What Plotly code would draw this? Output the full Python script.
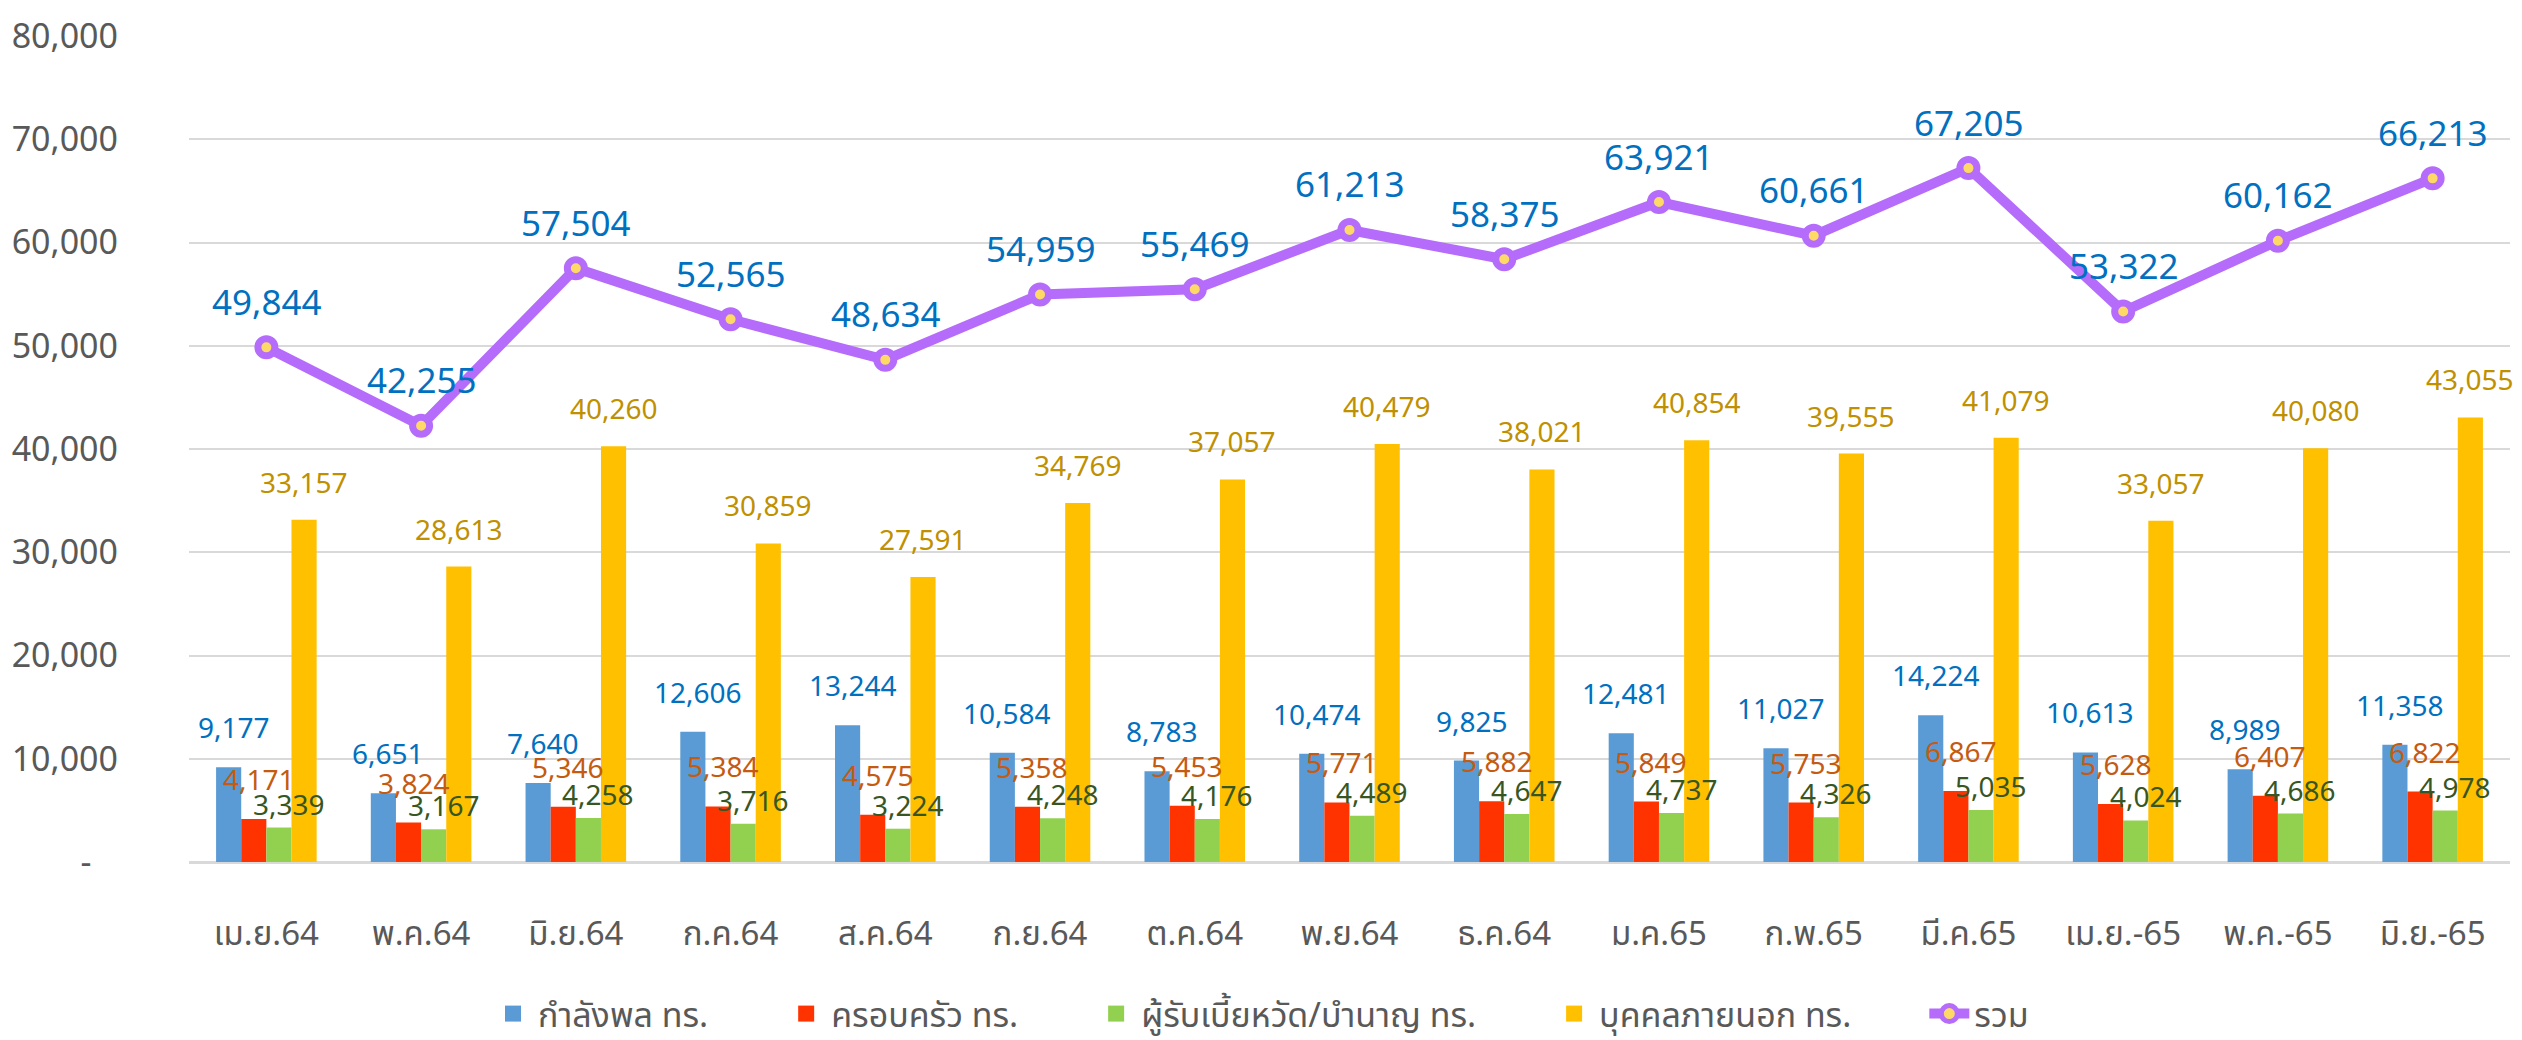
import plotly.graph_objects as go

categories = ["เม.ย.64", "พ.ค.64", "มิ.ย.64", "ก.ค.64", "ส.ค.64", "ก.ย.64", "ต.ค.64", "พ.ย.64",
              "ธ.ค.64", "ม.ค.65", "ก.พ.65", "มี.ค.65", "เม.ย.-65", "พ.ค.-65", "มิ.ย.-65"]

personnel = [9177, 6651, 7640, 12606, 13244, 10584, 8783, 10474, 9825, 12481, 11027, 14224, 10613, 8989, 11358]
family = [4171, 3824, 5346, 5384, 4575, 5358, 5453, 5771, 5882, 5849, 5753, 6867, 5628, 6407, 6822]
pensioners = [3339, 3167, 4258, 3716, 3224, 4248, 4176, 4489, 4647, 4737, 4326, 5035, 4024, 4686, 4978]
outsiders = [33157, 28613, 40260, 30859, 27591, 34769, 37057, 40479, 38021, 40854, 39555, 41079, 33057, 40080, 43055]
total = [49844, 42255, 57504, 52565, 48634, 54959, 55469, 61213, 58375, 63921, 60661, 67205, 53322, 60162, 66213]

series_names = ["กำลังพล ทร.", "ครอบครัว ทร.", "ผู้รับเบี้ยหวัด/บำนาญ ทร.", "บุคคลภายนอก ทร."]
total_name = "รวม"

y_tickvals = [0, 10000, 20000, 30000, 40000, 50000, 60000, 70000, 80000]
y_ticktext = ["-\u00a0\u00a0\u00a0", "10,000", "20,000", "30,000", "40,000", "50,000", "60,000", "70,000", "80,000"]

FONT = "Noto Sans, Noto Sans Thai, Noto Sans Thai UI, Loma, Garuda, Tlwg Typo, Open Sans, sans-serif"

bar_colors = ["#5B9BD5", "#FF3300", "#92D050", "#FFC000"]
label_colors = ["#0070C0", "#C55A11", "#375623", "#BF9000"]
label_yshift = [40, 40, 24, 38]
label_xshift = [5, 5, 10, 0]
LINE_COLOR = "#B56CFA"
BARGAP = 0.35
PAD = "\u2003\u2003"

fig = go.Figure()
all_series = [personnel, family, pensioners, outsiders]
for name, vals, col in zip(series_names, all_series, bar_colors):
    fig.add_trace(go.Bar(x=categories, y=vals, name=name, legendgroup=name, showlegend=False,
                         marker=dict(color=col, line=dict(width=0))))

# legend entries with larger square swatches
for name, col in zip(series_names, bar_colors):
    fig.add_trace(go.Scatter(x=[None], y=[None], mode="markers", name=name + PAD, legendgroup=name,
                             marker=dict(symbol="square", size=24, color=col), hoverinfo="skip"))

fig.add_trace(go.Scatter(
    x=categories, y=total, name=total_name, mode="lines+markers",
    line=dict(color=LINE_COLOR, width=10),
    marker=dict(size=17, color="#FFD966", line=dict(color=LINE_COLOR, width=7)),
))

annotations = []
bw = (1 - BARGAP) / 4
for k, (vals, lc) in enumerate(zip(all_series, label_colors)):
    for i, v in enumerate(vals):
        annotations.append(dict(
            x=i + (k - 1.5) * bw, y=v, xref="x", yref="y", text=f"{v:,}",
            showarrow=False, xanchor="center", yanchor="middle",
            xshift=label_xshift[k], yshift=label_yshift[k],
            font=dict(family=FONT, size=28, color=lc),
        ))
for i, v in enumerate(total):
    annotations.append(dict(
        x=i, y=v, xref="x", yref="y", text=f"{v:,}",
        showarrow=False, xanchor="center", yanchor="middle", yshift=46,
        font=dict(family=FONT, size=35, color="#0070C0"),
    ))

fig.update_layout(
    width=2522, height=1040,
    margin=dict(l=175, r=12, t=27, b=178),
    paper_bgcolor="white", plot_bgcolor="white",
    barmode="group", bargap=BARGAP, bargroupgap=0,
    font=dict(family=FONT, color="#595959"),
    showlegend=True,
    legend=dict(orientation="h", xref="container", yref="container",
                x=0.5, xanchor="center", y=0.025, yanchor="middle",
                font=dict(family=FONT, size=34, color="#595959"), itemwidth=40,
                itemsizing="trace", traceorder="normal"),
    annotations=annotations,
)
fig.update_xaxes(type="category", range=[-0.5, len(categories) - 0.5], autorange=False,
                 showgrid=False, showline=False, ticks="outside", ticklen=42,
                 tickcolor="rgba(0,0,0,0)",
                 tickfont=dict(family=FONT, size=33, color="#595959"))
fig.update_yaxes(range=[0, 80000], tickvals=y_tickvals, ticktext=y_ticktext,
                 showgrid=True, gridcolor="#D9D9D9", gridwidth=2,
                 zeroline=True, zerolinecolor="#D9D9D9", zerolinewidth=3,
                 showline=False, ticks="",
                 tickfont=dict(family=FONT, size=34, color="#595959"), ticklabelstandoff=70)

fig.write_html("out.html")
